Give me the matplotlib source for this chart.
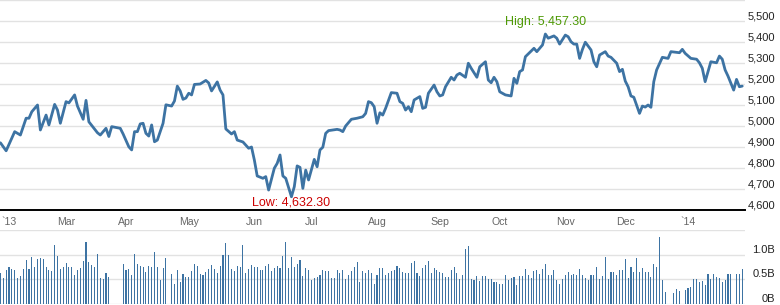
import matplotlib
matplotlib.use('Agg')
import matplotlib.pyplot as plt
import numpy as np
import pandas as pd
from matplotlib import transforms

plt.rcParams['font.family'] = ['Liberation Sans', 'DejaVu Sans']

# ---------------- data ----------------
session_dates = pd.bdate_range('2013-01-29', '2014-01-28')   # 261 sessions

price_session = [0, 2, 5, 7, 9, 10, 11, 13, 14, 16, 17, 19, 20, 21, 23, 24, 26, 27, 29, 30,
                 31, 34, 35, 37, 38, 39, 42, 43, 45, 46, 47, 48, 49, 50, 51, 52, 53, 54, 55, 57,
                 58, 60, 61, 62, 63, 64, 65, 66, 67, 68, 70, 72, 73, 74, 76, 77, 78, 79, 81, 82,
                 83, 85, 87, 88, 89, 90, 92, 93, 94, 96, 97, 98, 99, 100, 102, 103, 104, 105, 106, 107,
                 108, 110, 111, 112, 113, 114, 115, 118, 119, 120, 121, 123, 125, 127, 128, 129, 130, 131, 132, 133,
                 134, 135, 137, 139, 140, 141, 142, 143, 144, 145, 147, 148, 149, 150, 152, 153, 154, 155, 156, 158,
                 159, 160, 161, 163, 164, 165, 167, 168, 170, 171, 172, 173, 174, 175, 177, 179, 180, 181, 182, 183,
                 184, 187, 188, 190, 191, 192, 194, 195, 196, 198, 199, 200, 201, 202, 203, 204, 205, 207, 208, 209,
                 210, 212, 213, 214, 216, 217, 218, 219, 220, 221, 222, 224, 225, 226, 227, 228, 229, 230, 232, 234,
                 235, 238, 239, 240, 242, 244, 245, 246, 247, 249, 251, 252, 253, 254, 255, 257, 258, 259, 260]

price_close = [4920, 4882, 4973, 4957, 5037, 5037, 5068, 5100, 4981, 5052, 5005, 5103, 5076, 5013, 5116, 5110, 5148, 5095, 5032, 5122,
               5020, 4968, 4957, 4989, 4950, 4997, 4989, 4962, 4901, 4886, 4973, 4973, 5010, 5013, 4965, 4952, 5005, 4925, 4933, 5013,
               5101, 5095, 5119, 5190, 5167, 5127, 5133, 5156, 5148, 5198, 5200, 5217, 5205, 5167, 5210, 5171, 5148, 4986, 4962, 4973,
               4933, 4924, 4894, 4900, 4838, 4762, 4751, 4759, 4695, 4799, 4822, 4862, 4762, 4751, 4663, 4711, 4810, 4803, 4703, 4790,
               4743, 4841, 4806, 4886, 4899, 4965, 4978, 4984, 4981, 4973, 5000, 5032, 5037, 5044, 5060, 5116, 5111, 5092, 5013, 5063,
               5052, 5084, 5159, 5156, 5116, 5108, 5076, 5092, 5068, 5124, 5140, 5084, 5089, 5156, 5195, 5163, 5143, 5148, 5187, 5232,
               5219, 5243, 5251, 5232, 5299, 5275, 5232, 5282, 5306, 5219, 5206, 5232, 5211, 5163, 5148, 5143, 5227, 5203, 5259, 5267,
               5330, 5370, 5354, 5386, 5438, 5418, 5429, 5418, 5390, 5433, 5425, 5401, 5390, 5390, 5322, 5365, 5399, 5362, 5306, 5282,
               5338, 5354, 5333, 5327, 5299, 5259, 5270, 5214, 5187, 5143, 5137, 5060, 5095, 5090, 5100, 5089, 5211, 5267, 5327, 5322,
               5354, 5349, 5365, 5346, 5322, 5318, 5301, 5275, 5211, 5306, 5301, 5333, 5318, 5267, 5238, 5171, 5222, 5187, 5190]

nan = float('nan')
volume_b = [
    0.62, 0.53, 0.69, 0.74, 0.71, 0.69, 0.53, 0.57, 0.71, 0.89,
    0.71, 0.95, 0.74, 0.91, 0.93, 0.91, 0.74, 0.69, 0.67, 1.20,
    0.97, 0.71, 0.76, 0.83, 0.74, 0.74, 0.59, 0.69, 0.72, 0.87,
    1.26, 0.85, 0.79, 0.74, 1.01, 0.53, 0.51, 0.63, 0.55,
    nan, nan, nan, nan,
    0.81, 0.69, 0.71, 0.59, 1.01, 0.81, 0.77, 0.74, 0.64, 0.78, 0.75, 1.05, 0.76, 0.49, 0.72, 0.93,
    nan,
    0.61, 0.41, 0.69, 0.45, 0.61, 0.54, 0.54, 0.67, 0.81, 0.77,
    0.60, 0.59, 0.65, 0.71, 0.79, 0.71, 0.63, 0.78, 0.99, 1.24,
    0.99, 0.71, 0.67, 0.78, 0.76, 1.20, 0.62, 0.71, 0.79, 0.75,
    0.74, 0.69, 0.69, 0.78, 0.81, 0.67, 0.72, 0.78, 0.72, 0.97,
    1.26, 0.72, 0.95, 0.76, 0.81, 0.89, 0.57, 0.72, 0.69, 0.49,
    0.52, 0.55, 0.59, 0.68, 0.67, 0.67, 0.52, 0.53, 0.68, 0.62,
    0.68, 0.51, 0.58, 0.66, 0.74, 0.85, 0.44, 0.67, 0.62, 0.69,
    0.62, 0.40, 0.59, 0.72, 0.72, 0.59, 0.62, 0.66, 0.69, 0.77,
    0.72,
    0.64, 0.62, 0.62, 0.84, 0.87, 0.62, 0.57, 0.72, 0.79, 0.87,
    0.62, 0.72, 0.69, 0.64, 0.62, 0.54, 0.54, 0.69, 0.75, 0.62,
    0.51, 0.59, 1.11, 1.18, 0.51, 0.49, 0.57, 0.47, 0.57, 0.57,
    0.51, 0.51, 0.45, 0.44, 0.41, 0.41, 0.59, 0.49, 0.52, 0.55,
    0.39, 0.57, 0.57, 0.71, 0.59, 0.53, 0.67, 0.68, 0.60, 0.71,
    0.82, 0.59, 0.59, 0.68, 0.49, 0.40, 0.51, 0.59, 0.65, 0.59,
    0.61, 0.59, 0.71, 0.59, 0.53, 0.49, 0.59, 0.59, 0.74, 0.51,
    0.57, 0.96, 0.51, 0.64, 0.64, 0.59, 0.69, 0.69, 0.91, 0.52,
    0.75, 0.64, 0.93, 0.64, 0.72, 0.64, 0.64, 0.55, 0.82, 0.76,
    1.36, 0.49,
    0.25, nan, nan, 0.22, 0.30, 0.26, nan, 0.28, 0.33, 0.35,
    0.51, 0.51, 0.45, 0.47, 0.39, 0.60, 0.51, 0.60, 0.55, 0.52,
    0.45, 0.49, 0.60, 0.61, nan, 0.61, 0.61, 0.71,
]

month_labels = ["`13", "Mar", "Apr", "May", "Jun", "Jul", "Aug", "Sep", "Oct", "Nov", "Dec", "`14"]
price_ticks = [4600, 4700, 4800, 4900, 5000, 5100, 5200, 5300, 5400, 5500]
price_grid = [4700, 4800, 4900, 5000, 5100, 5200, 5300, 5400, 5500, 5600]
volume_ticks = [0.0, 0.5, 1.0]
volume_tick_labels = ["0B", "0.5B", "1.0B"]
high_value = 5457.30
low_value = 4632.30

# ---------------- layout ----------------
W, H = 780, 305
fig = plt.figure(figsize=(W / 100, H / 100), dpi=100)
fig.patch.set_facecolor('white')

plot_right = 745
ax = fig.add_axes([0, 1 - 210 / H, plot_right / W, 210 / H])
axv = fig.add_axes([0, 1 - 304 / H, plot_right / W, 74 / H])

n = len(session_dates)
xlim = (-0.15, n - 0.03)
line_color = '#3d73a3'
grid_color = '#e2e2e2'

# price panel
for g in price_grid:
    ax.axhline(g, color=grid_color, lw=1.0, zorder=0)
ax.plot(price_session, price_close, color=line_color, lw=2.0, solid_joinstyle='round',
        solid_capstyle='round', zorder=3)
ax.set_xlim(*xlim)
ax.set_ylim(4600, 5600)
for s in ['top', 'left', 'right']:
    ax.spines[s].set_visible(False)
ax.spines['bottom'].set_color('black')
ax.spines['bottom'].set_linewidth(1.4)
ax.set_xticks([])
ax.set_yticks([])

# y tick labels (right side, above gridline)
ytrans = transforms.offset_copy(ax.get_yaxis_transform(), fig=fig, x=0, y=2, units='dots')
for v in price_ticks:
    ax.text(775 / plot_right, v, f"{v:,}", transform=ytrans, ha='right', va='baseline',
            fontsize=8, color='#222222', clip_on=False)

# month labels
months = session_dates.to_period('M')
first_idx = [i for i in range(1, n) if months[i] != months[i - 1]]
xtrans = transforms.blended_transform_factory(ax.transData, ax.transAxes)
for i, lab in zip(first_idx, month_labels):
    ax.text(i, -12 / 210, lab, transform=xtrans, ha='center', va='center',
            fontsize=7.6, color='#666666', clip_on=False)

# high / low annotations
hi_i = price_session[int(np.argmax(price_close))]
lo_i = price_session[int(np.argmin(price_close))]
ax.annotate(f"High: {high_value:,.2f}", xy=(hi_i, high_value), xytext=(0, 8),
            textcoords='offset pixels', ha='center', va='center', fontsize=9,
            color='#4e9a06', annotation_clip=False)
ax.annotate(f"Low: {low_value:,.2f}", xy=(lo_i, low_value), xytext=(0, 1),
            textcoords='offset pixels', ha='center', va='center', fontsize=9,
            color='#cc0000', annotation_clip=False)

# volume panel
for g in [0.0, 0.5, 1.0, 1.5]:
    axv.axhline(g, color=grid_color, lw=1.0, zorder=0)
vol = np.array(volume_b, dtype=float)
idx = np.arange(len(vol))
ok = ~np.isnan(vol)
axv.bar(idx[ok], vol[ok], width=0.38, color=line_color, zorder=2, linewidth=0)
axv.set_xlim(*xlim)
axv.set_ylim(0, 1.5)
for s in axv.spines.values():
    s.set_visible(False)
axv.set_xticks([])
axv.set_yticks([])
vtrans = transforms.offset_copy(axv.get_yaxis_transform(), fig=fig, x=0, y=2, units='dots')
for v, lab in zip(volume_ticks, volume_tick_labels):
    axv.text(775 / plot_right, v, lab, transform=vtrans, ha='right', va='baseline',
             fontsize=8, color='#222222', clip_on=False)

fig.savefig('out.png', dpi=100, facecolor='white')
